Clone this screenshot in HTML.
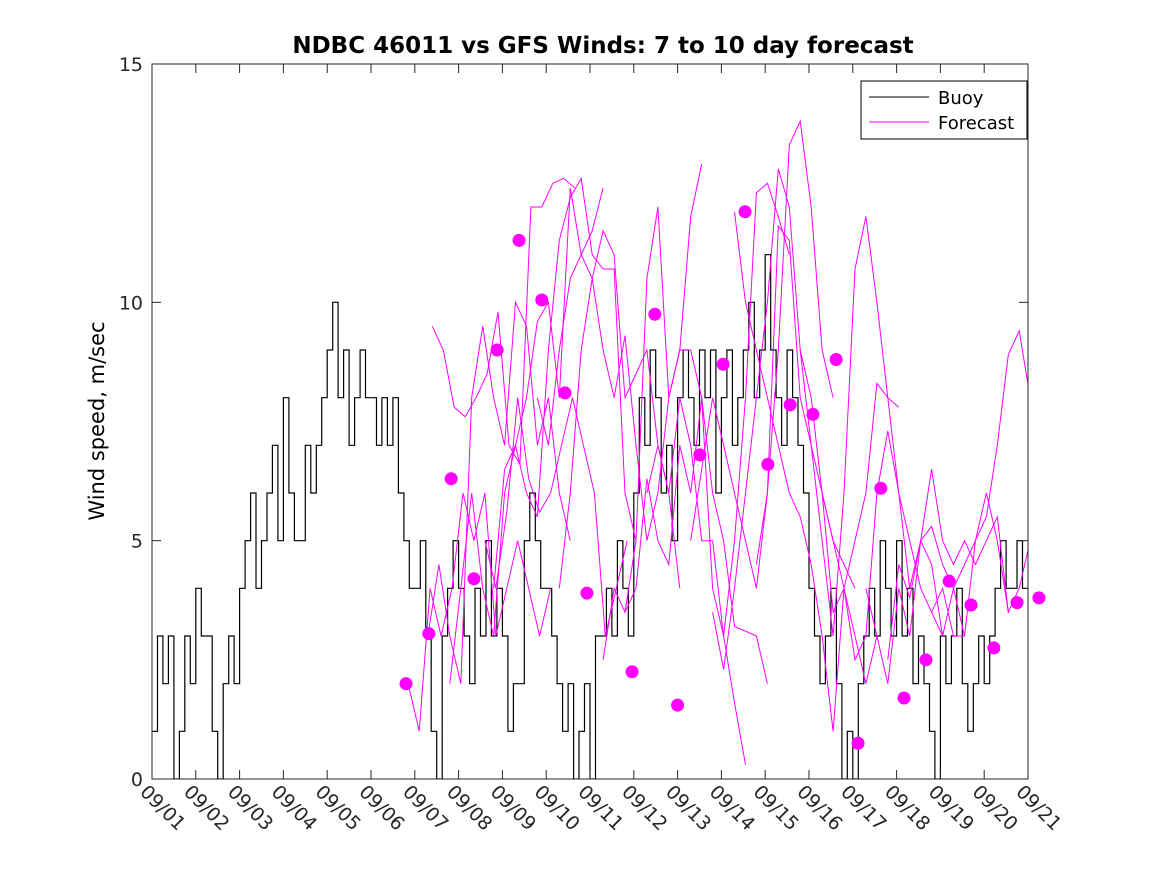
<!DOCTYPE html>
<html><head><meta charset="utf-8"><style>
body{margin:0;background:#fff}
svg{display:block;font-family:"DejaVu Sans","Liberation Sans",sans-serif}
</style></head><body>
<svg id="chart" width="1167" height="875" viewBox="0 0 1167 875">
<rect x="0" y="0" width="1167" height="875" fill="#fff"/>
<text x="603" y="53" text-anchor="middle" font-size="23" font-weight="bold">NDBC 46011 vs GFS Winds: 7 to 10 day forecast</text>
<text transform="translate(104,421) rotate(-90)" text-anchor="middle" font-size="21">Wind speed, m/sec</text>
<g id="plot"></g>
<g id="axes"></g>
<g>
<rect x="861" y="81" width="166" height="58" fill="#fff" stroke="#000" stroke-width="1"/>
<line x1="869" y1="97" x2="929" y2="97" stroke="#000" stroke-width="1"/>
<text x="938" y="104" font-size="18">Buoy</text>
<line x1="869" y1="122" x2="929" y2="122" stroke="#f0f" stroke-width="1"/>
<text x="938" y="129" font-size="18">Forecast</text>
</g>
</svg>
<script>
const xTickLabels = ["09/01","09/02","09/03","09/04","09/05","09/06","09/07","09/08","09/09","09/10","09/11","09/12","09/13","09/14","09/15","09/16","09/17","09/18","09/19","09/20","09/21"];
const yTicks = [0,5,10,15];
// buoy: 8 samples per day (3-hourly), days 0..19
const buoy = [
1,3,2,3,0,1,3,2, 4,3,3,1,0,2,3,2, 4,5,6,4,5,6,7,5, 8,6,5,5,7,6,7,8,
9,10,8,9,7,8,9,8, 8,7,8,7,8,6,5,4, 4,5,3,1,0,3,4,5, 4,3,2,4,3,5,3,4,
3,1,2,2,5,6,5,4, 4,3,2,1,2,0,1,2, 0,3,3,4,3,5,4,3, 6,8,7,9,8,6,7,5,
8,9,8,7,9,8,9,6, 8,9,7,8,9,10,8,9, 11,9,8,7,9,8,7,6, 4,3,2,3,4,2,0,1,
0,2,3,4,3,5,4,3, 5,3,4,2,3,2,1,0, 3,2,3,4,2,1,2,3, 2,3,4,5,4,4,5,4];
// forecast lines: start day and values every 0.25 day
const fcStarts = [5.85,6.3,6.4,6.8,7.8,7.6,8.8,9.3,10.3,10.8,11.3,12.3,12.8,13.8,13.3,14.8,15.3,16.3,16.8,17.8];
const fcValues = [
[2,1,4,3,4,6,5,6,3,4,5,4,3,4],
[3,4.5,3,2,8,9.5,8,7,10,9.5,7,8,6,5],
[9.5,9,7.8,7.6,8,8.5,9.8,7,6.6,12,12,12.5,12.6,12.4],
[2,4,6,4,3,6,7,8,9.6,10,8,12.4,11,11.5,12.4],
[4,6.5,7,6,5.5,9,11.3,12.2,12.6,11,10.7,10.7,6,5],
[5,4,5.6,8,6.3,5.6,6,7,8,7,6,3,4,5],
[8,7,9,10.5,11,10.5,11.5,11,8,8.5,9,7,6,4],
[4,6,9,10.5,9,8,9.3,7,5,6,8,9,11.8,12.9],
[2.5,4,3.5,5,10.5,12,8,9,9,8,4,3,1.6,0.3],
[3.5,4,6.3,5,4.5,7,6,8,6,5,3.2,3.1,3,2],
[6,7,6,8,7,5,5,3,5,8,12.3,12.5,11.8,11],
[5,6.5,8,7,6,5,4,6,9,13.3,13.8,12,9,8],
[3.5,2.3,4,6,8,10,12.8,12,9,7,6,5,4.5,4],
[4.5,6,11.6,11.3,8,7,5,3,6,10.7,11.8,10,8,7.8],
[11.9,10,9,8,7,6,5.5,4.5,3,1,4,3,2,3],
[9,8,6,5,4,2.5,3,6,7.3,6,5,4,3.5,3],
[6,3.5,4,5,6,8.3,8,6,4,5,5.3,4.5,4,3],
[4,3,2,4,3,5,6.5,5,4.5,5,4.5,5,5.5,3.5],
[2.5,4.5,3.8,5,4.5,3,4,4.5,5,5.5,7,8.9,9.4,8],
[3.5,4,3,3,5,6,5,3.5,4,5,4.5,6,7.5,8.5]];
const dotDays = [5.80,6.32,6.83,7.35,7.88,8.38,8.90,9.43,9.93,10.96,11.48,12.0,12.51,13.04,13.54,14.06,14.57,15.09,15.62,16.12,16.64,17.17,17.67,18.20,18.70,19.22,19.75,20.25];
const dotValues = [2.0,3.05,6.3,4.2,9.0,11.3,10.05,8.1,3.9,2.25,9.75,1.55,6.8,8.7,11.9,6.6,7.85,7.65,8.8,0.75,6.1,1.7,2.5,4.15,3.65,2.75,3.7,3.8];

const X0=152,X1=1028,Y0=779,Y1=64;
const xs=d=>X0+d*(X1-X0)/20;
const ys=v=>Y0-v*(Y0-Y1)/15;
const NS="http://www.w3.org/2000/svg";
const plot=document.getElementById('plot'), axes=document.getElementById('axes');
function mk(t,a,p){const e=document.createElementNS(NS,t);for(const k in a)e.setAttribute(k,a[k]);p.appendChild(e);return e;}

const defs=mk('defs',{},plot);
const cp=mk('clipPath',{id:'clip'},defs);
mk('rect',{x:X0,y:Y1,width:X1-X0,height:Y0-Y1},cp);

let d='';
buoy.forEach((v,i)=>{const x0=xs(i/8),x1=xs((i+1)/8),y=ys(v);d+=(i?'L':'M')+x0.toFixed(1)+' '+y.toFixed(1)+'L'+x1.toFixed(1)+' '+y.toFixed(1);});
const bl=mk('path',{d:d,fill:'none',stroke:'#000','stroke-width':1.2,'clip-path':'url(#clip)'},plot);



fcValues.forEach((arr,j)=>{
  const pts=arr.map((v,i)=>xs(fcStarts[j]+i*0.25).toFixed(1)+','+ys(v).toFixed(1)).join(' ');
  const p=mk('polyline',{points:pts,fill:'none',stroke:'#f0f','stroke-width':1,'clip-path':'url(#clip)'},plot);
  
  
});
dotDays.forEach((dd,i)=>{
  const c=mk('circle',{cx:xs(dd),cy:ys(dotValues[i]),r:6.5,fill:'#f0f'},plot);
  
  
});

const box=mk('rect',{x:X0,y:Y1,width:X1-X0,height:Y0-Y1,fill:'none',stroke:'#262626','stroke-width':1},axes);


yTicks.forEach(v=>{
  const y=ys(v);
  mk('line',{x1:X0,y1:y,x2:X0+9,y2:y,stroke:'#262626'},axes);
  mk('line',{x1:X1,y1:y,x2:X1-9,y2:y,stroke:'#262626'},axes);
  const t=mk('text',{x:X0-9,y:y+7,'text-anchor':'end','font-size':19,fill:'#262626'},axes);
  t.textContent=v;
  
  
});
xTickLabels.forEach((lab,i)=>{
  const x=xs(i);
  mk('line',{x1:x,y1:Y0,x2:x,y2:Y0-9,stroke:'#262626'},axes);
  mk('line',{x1:x,y1:Y1,x2:x,y2:Y1+9,stroke:'#262626'},axes);
  const t=mk('text',{transform:'translate('+(x-13)+','+(Y0+14)+') rotate(45)','font-size':19,fill:'#262626'},axes);
  t.textContent=lab;
  
  
});
</script>
</body></html>
